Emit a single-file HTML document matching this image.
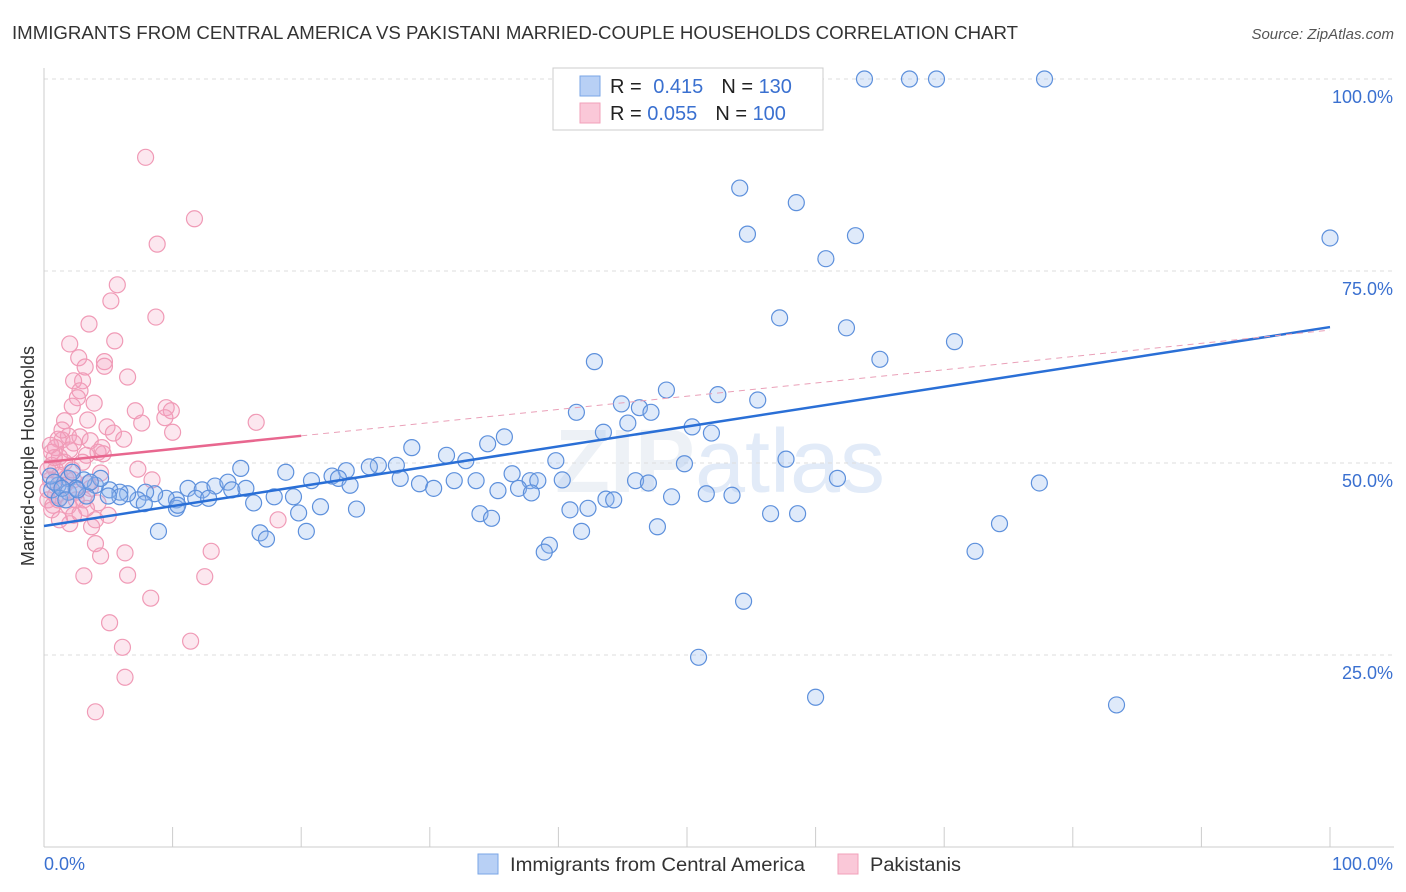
<!DOCTYPE html>
<html><head><meta charset="utf-8"><style>
body{margin:0;background:#fff;font-family:"Liberation Sans",sans-serif;}
svg{display:block}
</style></head><body>
<svg id="chart" width="1406" height="892" xmlns="http://www.w3.org/2000/svg" font-family="Liberation Sans, sans-serif">
<text x="12" y="39" font-size="18" fill="#333" textLength="1006" lengthAdjust="spacingAndGlyphs">IMMIGRANTS FROM CENTRAL AMERICA VS PAKISTANI MARRIED-COUPLE HOUSEHOLDS CORRELATION CHART</text>
<text x="1394" y="39" font-size="15" fill="#555" text-anchor="end" font-style="italic">Source: ZipAtlas.com</text>
<text x="720" y="492" font-size="90" fill="#edf1f6" text-anchor="middle" font-weight="bold">ZIP<tspan fill="#e2ebf8" font-weight="normal">atlas</tspan></text>
<g id="grid"></g><g id="axes"></g><g id="pts"></g><g id="trends"></g>
<text transform="translate(34,456) rotate(-90)" font-size="18" fill="#333" text-anchor="middle">Married-couple Households</text>
<g>
<rect x="553" y="68" width="270" height="62" fill="#fff" stroke="#ccc"/>
<rect x="580" y="76" width="20" height="20" fill="#b8d0f5" stroke="#7aa6e6"/>
<rect x="580" y="103" width="20" height="20" fill="#fac8d8" stroke="#f2a0ba"/>
<text x="610" y="93" font-size="20" fill="#222">R = <tspan fill="#3a70d0" dx="6">0.415</tspan><tspan dx="18" fill="#222">N = </tspan><tspan fill="#3a70d0">130</tspan></text>
<text x="610" y="120" font-size="20" fill="#222">R = <tspan fill="#3a70d0">0.055</tspan><tspan dx="18" fill="#222">N = </tspan><tspan fill="#3a70d0">100</tspan></text>
</g>
<g>
<rect x="478" y="854" width="20" height="20" fill="#b8d0f5" stroke="#7aa6e6"/>
<text x="510" y="871" font-size="19" fill="#333" textLength="295" lengthAdjust="spacingAndGlyphs">Immigrants from Central America</text>
<rect x="838" y="854" width="20" height="20" fill="#fac8d8" stroke="#f2a0ba"/>
<text x="870" y="871" font-size="19" fill="#333" textLength="91" lengthAdjust="spacingAndGlyphs">Pakistanis</text>
</g>
</svg>
<script>
const blueX=[63.8,67.3,69.4,77.8,100,54.1,58.5,54.7,63.1,60.8,57.2,62.4,70.8,65.0,42.8,48.4,52.4,55.5,44.9,41.4,46.3,47.2,45.4,43.5,50.4,51.9,35.8,34.5,28.6,31.3,32.8,39.8,57.7,49.8,26.0,27.4,25.3,23.5,15.3,18.8,22.4,22.9,20.8,23.8,27.7,29.2,30.3,31.9,33.6,36.4,37.8,38.4,36.9,35.3,37.9,40.3,46.0,47.0,48.8,51.5,53.5,61.7,77.4,43.7,44.3,11.2,12.3,13.3,14.3,14.6,15.7,11.8,12.8,17.9,19.4,16.3,10.3,9.5,8.6,7.9,7.3,6.5,5.9,5.1,4.0,4.4,3.1,1.9,1.1,0.6,1.9,2.5,1.2,5.9,5.0,7.8,10.3,10.4,19.8,21.5,24.3,33.9,34.8,40.9,42.3,56.5,58.6,74.3,8.9,16.8,17.3,20.4,41.8,47.7,39.3,38.9,72.4,54.4,50.9,60.0,83.4,0.5,0.8,1.4,1.7,2.2,3.3,2.6,3.6];
const blueY=[100,100,100,100,79.3,85.8,83.9,79.8,79.6,76.6,68.9,67.6,65.8,63.5,63.2,59.5,58.9,58.2,57.7,56.6,57.2,56.6,55.2,54.0,54.7,53.9,53.4,52.5,52.0,51.0,50.3,50.3,50.5,49.9,49.7,49.7,49.5,49.0,49.3,48.8,48.3,48.0,47.7,47.1,48.0,47.3,46.7,47.7,47.7,48.6,47.7,47.7,46.7,46.4,46.1,47.8,47.7,47.4,45.6,46.0,45.8,48.0,47.4,45.3,45.2,46.7,46.5,47.0,47.5,46.5,46.7,45.4,45.4,45.6,45.6,44.8,45.2,45.4,46.0,46.2,45.2,46.0,46.2,46.5,47.1,48.0,47.8,48.0,47.1,46.5,46.2,46.7,45.4,45.6,45.7,44.7,44.1,44.5,43.5,44.3,44.0,43.4,42.8,43.9,44.1,43.4,43.4,42.1,41.1,40.9,40.1,41.1,41.1,41.7,39.3,38.4,38.5,32.0,24.7,19.5,18.5,48.3,47.5,46.7,45.2,48.8,45.7,46.5,47.5];
const pinkX=[7.9,11.7,8.8,5.7,5.2,8.7,3.5,5.5,2.0,2.7,4.7,3.2,4.7,6.5,3.0,2.3,2.8,2.6,3.9,2.2,1.6,7.1,9.5,9.9,9.4,7.6,4.9,16.5,10.0,5.4,1.9,2.8,3.6,6.2,1.4,1.1,2.3,0.9,0.6,4.2,4.6,3.3,1.2,1.6,0.6,0.9,7.3,4.4,8.4,3.4,2.3,1.7,1.2,0.5,0.3,0.9,0.3,0.7,4.2,3.1,1.9,3.3,5.0,2.3,4.0,2.0,3.7,18.2,2.8,4.0,6.3,13.0,4.4,6.5,12.5,3.1,8.3,5.1,11.4,6.1,6.3,4.0,0.6,0.3,1.1,1.6,2.5,3.6,2.2,0.8,1.4,2.0,3.0,3.4,0.5,1.2,2.5,4.5];
const pinkY=[89.8,81.8,78.5,73.2,71.1,69.0,68.1,65.9,65.5,63.7,63.2,62.5,62.6,61.2,60.7,60.7,59.4,58.5,57.8,57.4,55.5,56.8,57.2,56.8,55.9,55.2,54.7,55.3,54.0,53.9,53.5,53.4,52.9,53.1,53.0,53.1,52.6,52.0,51.4,51.4,51.2,51.0,50.8,50.1,49.7,49.1,49.2,48.7,47.8,47.3,47.8,48.0,48.4,47.8,46.5,45.8,45.2,44.5,44.8,45.2,44.4,44.1,43.2,43.2,42.6,42.1,41.7,42.6,43.4,39.5,38.3,38.5,37.9,35.4,35.2,35.3,32.4,29.2,26.8,26.0,22.1,17.6,43.9,49.1,45.2,47.1,46.2,46.7,49.1,50.7,54.3,51.7,50.1,55.6,52.3,42.6,45.2,52.0];
const blueTrend=[41.8,67.7];
const pinkTrend=[50.1,67.3];
const pinkSolidEnd=20;
const yTicks=[25,50,75,100];
const yTickLabels=["25.0%","50.0%","75.0%","100.0%"];
const xTicks=[0,10,20,30,40,50,60,70,80,90,100];

const NS="http://www.w3.org/2000/svg";
const sx=v=>44+v*12.86, sy=v=>847-v*7.68;
function mk(p,t,a){const e=document.createElementNS(NS,t);for(const k in a)e.setAttribute(k,a[k]);p.appendChild(e);return e;}
const grid=document.getElementById('grid'),axes=document.getElementById('axes'),pts=document.getElementById('pts'),tr=document.getElementById('trends');
yTicks.forEach((t,i)=>{
 const l=mk(grid,'line',{x1:44,x2:1394,y1:sy(t),y2:sy(t),stroke:'#ddd','stroke-dasharray':'4,4'});
 
 
 const tx=mk(axes,'text',{x:1393,y:sy(t)+24,'font-size':18,fill:'#3a70d0','text-anchor':'end'});
 tx.textContent=yTickLabels[i];
 
 
});
const xa=mk(axes,'line',{x1:44,x2:1394,y1:847,y2:847,stroke:'#ccc'});


const ya=mk(axes,'line',{x1:44,x2:44,y1:68,y2:847,stroke:'#ccc'});


xTicks.forEach(t=>{
 const l=mk(axes,'line',{x1:sx(t),x2:sx(t),y1:827,y2:847,stroke:'#ccc'});
 
 
});
const xl0=mk(axes,'text',{x:44,y:870,'font-size':18,fill:'#3a70d0'});xl0.textContent='0.0%';


const xl1=mk(axes,'text',{x:1393,y:870,'font-size':18,fill:'#3a70d0','text-anchor':'end'});xl1.textContent='100.0%';


pinkX.forEach((x,i)=>{
 const c=mk(pts,'circle',{cx:sx(x),cy:sy(pinkY[i]),r:8,fill:'rgba(245,160,190,0.25)',stroke:'#f09ab6','stroke-width':1.2});
 
 
});
blueX.forEach((x,i)=>{
 const c=mk(pts,'circle',{cx:sx(x),cy:sy(blueY[i]),r:8,fill:'rgba(150,185,240,0.3)',stroke:'#5d90dc','stroke-width':1.2});
 
 
});
const bl=mk(tr,'line',{x1:sx(0),y1:sy(blueTrend[0]),x2:sx(100),y2:sy(blueTrend[1]),stroke:'#2a6fd6','stroke-width':2.5});


const py=x=>pinkTrend[0]+(pinkTrend[1]-pinkTrend[0])*x/100;
const pd=mk(tr,'line',{x1:sx(pinkSolidEnd),y1:sy(py(pinkSolidEnd)),x2:sx(100),y2:sy(py(100)),stroke:'#eaa0b8','stroke-width':1,'stroke-dasharray':'6,5'});


const pl=mk(tr,'line',{x1:sx(0),y1:sy(py(0)),x2:sx(pinkSolidEnd),y2:sy(py(pinkSolidEnd)),stroke:'#e8678f','stroke-width':2.5});


</script>
</body></html>
